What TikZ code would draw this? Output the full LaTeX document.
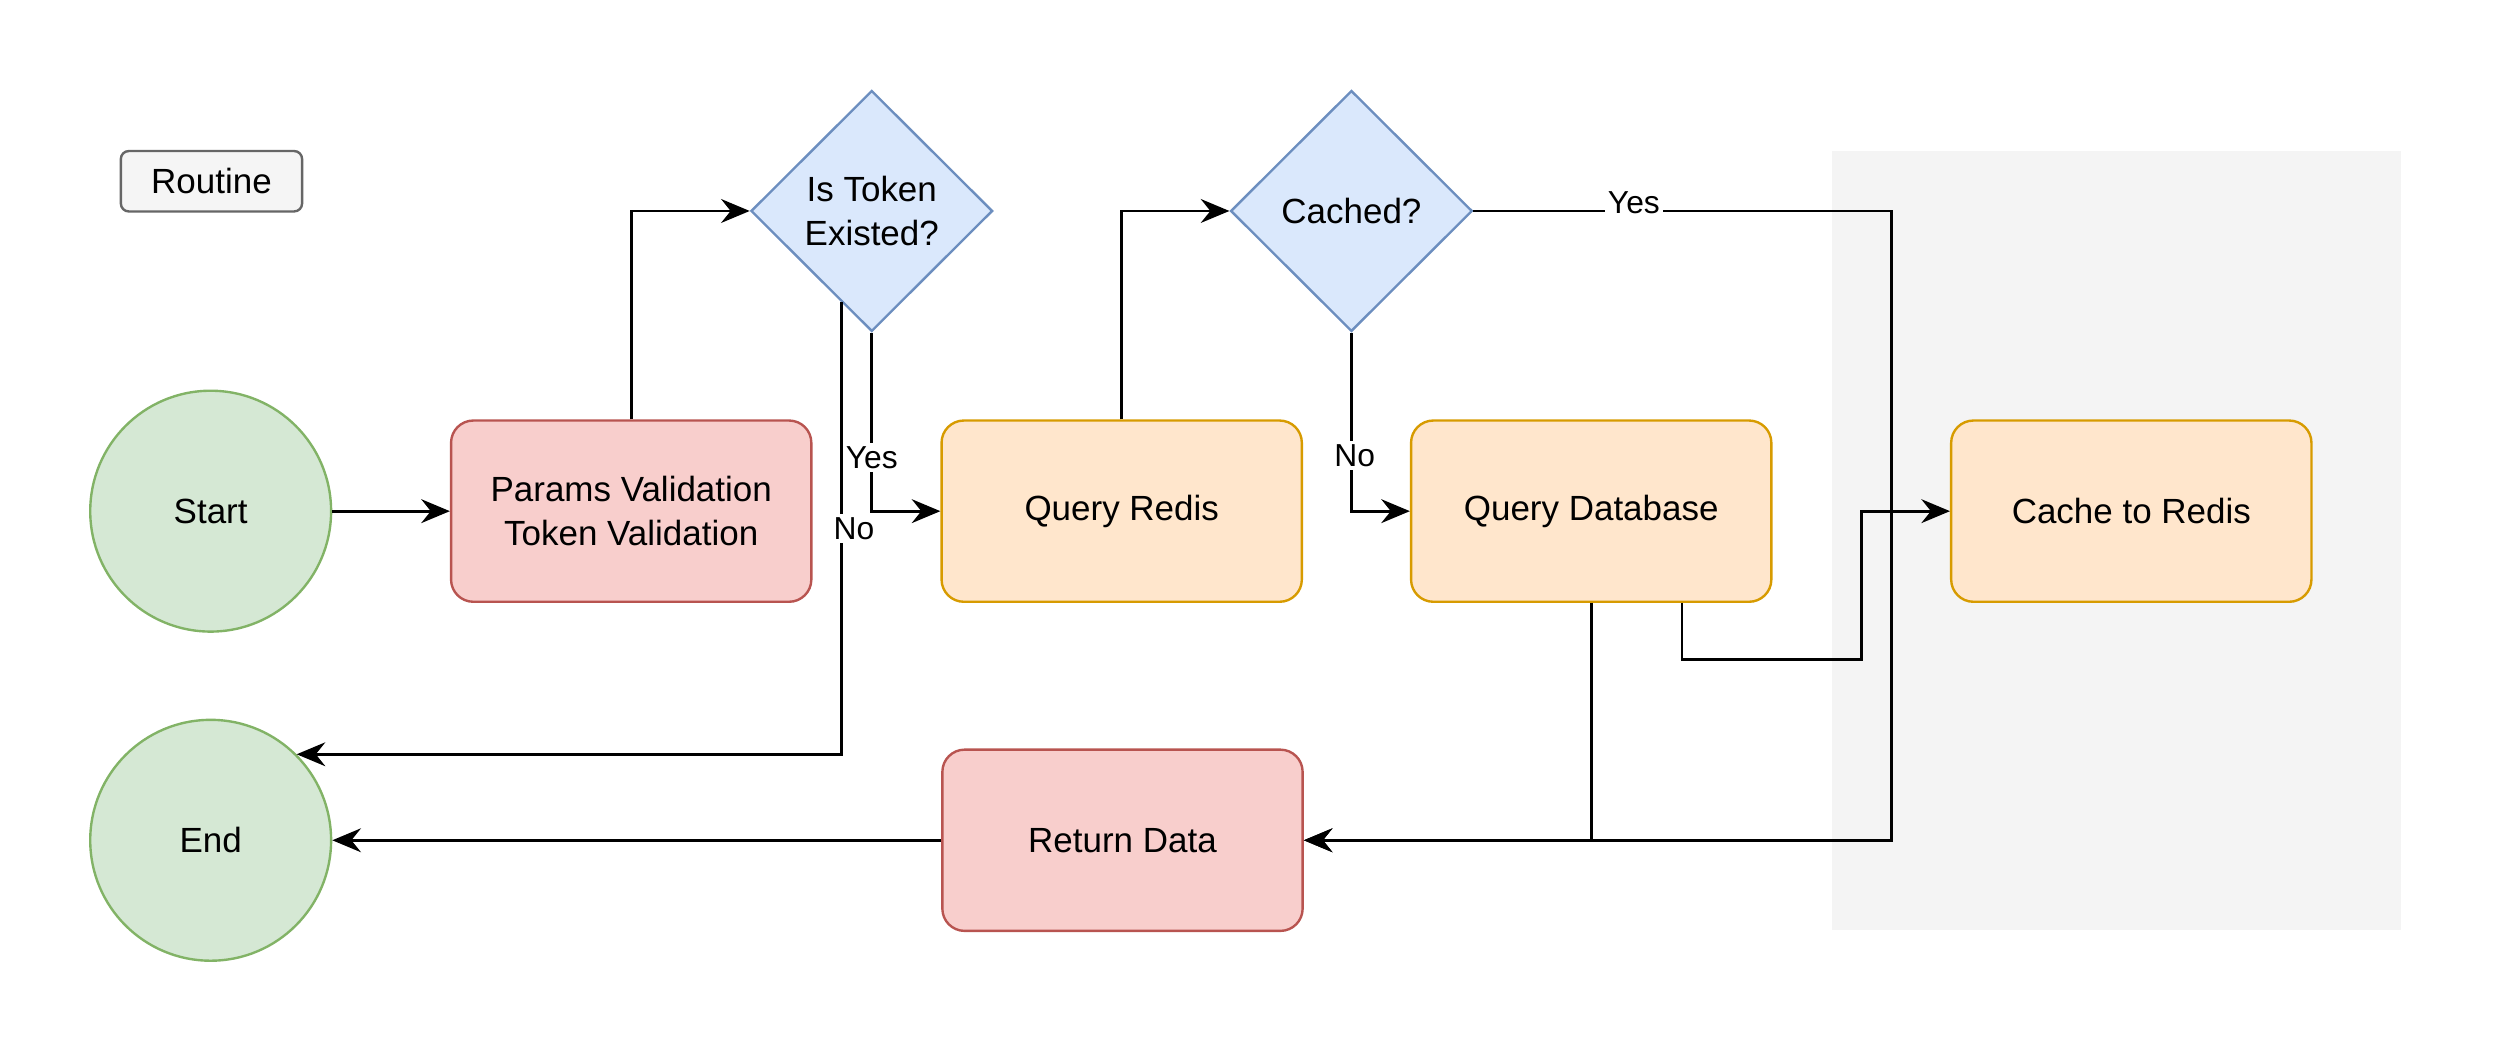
\documentclass[tikz,border=0pt]{standalone}
\usepackage{fontspec}
\setmainfont{Liberation Sans}
\usetikzlibrary{shapes.geometric,arrows.meta,calc}
\definecolor{termfill}{HTML}{D5E8D4}
\definecolor{termline}{HTML}{82B366}
\definecolor{redfill}{HTML}{F8CECC}
\definecolor{redline}{HTML}{B85450}
\definecolor{orangefill}{HTML}{FFE6CC}
\definecolor{orangeline}{HTML}{D79B00}
\definecolor{bluefill}{HTML}{DAE8FC}
\definecolor{blueline}{HTML}{6C8EBF}
\definecolor{grayfill}{HTML}{F5F5F5}
\definecolor{grayline}{HTML}{666666}
\definecolor{graybg}{HTML}{F4F4F4}
\begin{document}
\begin{tikzpicture}[x=0.5pt,y=-0.5pt,
        font=\fontsize{11}{14}\selectfont,
        arr/.style={line width=0.85pt,-{Stealth[length=9pt,width=7.5pt,inset=3pt]}},
        lbl/.style={fill=white,inner sep=1pt,font=\fontsize{10}{12}\selectfont},
        term/.style={circle,draw=termline,fill=termfill,line width=0.75pt,minimum size=75.75pt,inner sep=0pt},
        box/.style={rectangle,rounded corners=7pt,line width=0.75pt,minimum width=113.3pt,minimum height=57pt,align=center},
        redbox/.style={box,draw=redline,fill=redfill},
        orangebox/.style={box,draw=orangeline,fill=orangefill},
        choice/.style={diamond,draw=blueline,fill=bluefill,line width=0.75pt,minimum width=76pt,minimum height=75.75pt,inner sep=0pt,align=center},
        routine/.style={rectangle,rounded corners=2.5pt,draw=grayline,fill=grayfill,line width=0.75pt,minimum width=57pt,minimum height=19pt}]
        \useasboundingbox (0,0) rectangle (1568,662);
        \fill [graybg] (1152,95) rectangle (1510,585);

        \node [routine] (rt) at (133,114) {Routine};
        \node [term] (s) at (132.5,321.5) {Start};
        \node [term] (e) at (132.5,528.5) {End};
        \node [redbox] (p) at (397,321.5) {Params Validation\\Token Validation};
        \node [choice] (t) at (548.3,132.7) {Is Token\\Existed?};
        \node [orangebox] (r) at (705.5,321.5) {Query Redis};
        \node [choice] (c) at (850,132.7) {Cached?};
        \node [orangebox] (d) at (1000.8,321.5) {Query Database};
        \node [orangebox] (w) at (1340.5,321.5) {Cache to Redis};
        \node [redbox] (ret) at (706,528.5) {Return Data};
        \coordinate (k) at (1189.5,132.7);
        \coordinate (j) at (1171,415);

        \draw [arr] (s) -- (p) ;
        \draw [arr] (p.north) |- (t.west) ;
        \draw [arr] (t.south) |- node [lbl,pos=0.349] {Yes} (r.west) ;
        \draw [arr] ($(t.south)!0.25!(t.west)$) |- node [lbl,pos=0.25,xshift=4pt] {No} (e.45) ;
        \draw [arr] (r.north) |- (c.west) ;
        \draw [arr] (c.south) |- node [lbl,pos=0.344,xshift=1pt] {No} (d.west) ;
        \draw [arr] (c.east) -- node [lbl,pos=0.384,yshift=2.75pt] {Yes} (k) |- (ret.east) ;
        \draw [arr] (d.south) |- (ret.east) ;
        \draw [arr] ($(d.south west)!0.75!(d.south east)$) |- (j) |- (w.west) ;
        \draw [arr] (ret) -- (e) ;
\end{tikzpicture}
\end{document}
